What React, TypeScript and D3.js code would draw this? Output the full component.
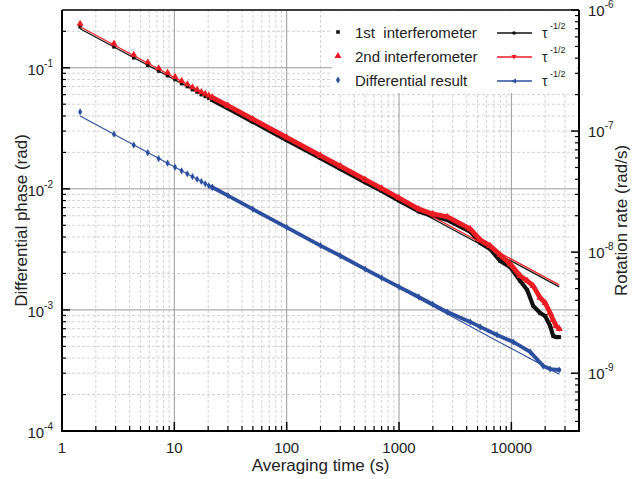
import React from 'react';
import * as d3 from 'd3';

const W = 634;
const H = 479;
const box = { left: 62, right: 579, top: 10, bottom: 431 };

// sparse early points (tau = n * 1.45 s), individual markers
const sparseTau = [1.45, 2.9, 4.35, 5.8, 7.25, 8.7, 10.15, 11.6, 13.05, 14.5, 15.95, 17.4, 18.85, 20.3, 21.75];
const sparse1st = [0.218, 0.149, 0.121, 0.105, 0.094, 0.086, 0.08, 0.074, 0.07, 0.066, 0.063, 0.06, 0.058, 0.056, 0.054];
const sparse2nd = [0.231, 0.158, 0.128, 0.111, 0.099, 0.091, 0.084, 0.078, 0.073, 0.069, 0.066, 0.063, 0.061, 0.059, 0.057];
const sparseDiff = [0.0432, 0.0283, 0.023, 0.0199, 0.0178, 0.0163, 0.0151, 0.0141, 0.0133, 0.0126, 0.012, 0.0115, 0.011, 0.0106, 0.0103];

const traceTau = [21.75, 30, 50, 100, 200, 300, 500, 700, 1000, 1500, 2000, 2700, 4300, 5280, 6470, 7940, 9750, 11970, 13830, 15640, 18040, 20000, 22150, 23550, 25050, 26670];
const trace1st = [0.054, 0.0462, 0.0358, 0.0253, 0.0179, 0.0146, 0.0113, 0.0096, 0.008, 0.0065, 0.00597, 0.00552, 0.00443, 0.00358, 0.00319, 0.00254, 0.00226, 0.00174, 0.00146, 0.00108, 0.000944, 0.000891, 0.000738, 0.00061, 0.000597, 0.000597];
const trace2nd = [0.057, 0.0487, 0.0377, 0.0266, 0.0188, 0.0154, 0.0119, 0.0101, 0.0084, 0.0068, 0.00621, 0.00587, 0.00467, 0.00379, 0.00338, 0.00285, 0.0024, 0.00191, 0.00174, 0.00158, 0.00126, 0.00114, 0.000944, 0.000826, 0.000738, 0.000697];

const traceTauDiff = [21.75, 30, 50, 100, 200, 300, 500, 700, 1000, 1500, 2000, 2700, 4300, 5280, 7470, 10380, 14700, 19200, 22150, 26670];
const traceDiff = [0.0103, 0.0088, 0.00679, 0.0048, 0.0034, 0.0028, 0.00217, 0.00184, 0.00155, 0.00128, 0.00111, 0.00096, 0.000796, 0.000724, 0.000621, 0.000544, 0.00045, 0.000344, 0.000325, 0.000319];

// tau^-1/2 reference lines (end points)
const fitTau = [1.45, 26670];
const fit1st = [0.21, 0.00155];
const fit2nd = [0.218, 0.00161];
const fitDiff = [0.0399, 0.000294];

const xTicks = [1, 10, 100, 1000, 10000];
const xTickLabels = ['1', '10', '100', '1000', '10000'];
const yLeftExps = [-4, -3, -2, -1];
const yRightExps = [-9, -8, -7, -6];

const legendLabels = ['1st  interferometer', '2nd interferometer', 'Differential result'];

const BLACK = '#111111';
const RED = '#ec1c24';
const BLUE = '#2d4fa0';
const FONT = '"Liberation Sans", Arial, sans-serif';

const x = d3.scaleLog().domain([1, 40000]).range([box.left, box.right]);
const y = d3.scaleLog().domain([1e-4, 0.3]).range([box.bottom, box.top]);
const yR = d3.scaleLog().domain([1e-6 * 1e-4 / 0.3, 1e-6]).range([box.bottom, box.top]);

const minorOf = (lo: number, hi: number, scaleMax: number) => {
  const out: number[] = [];
  for (let d = lo; d < hi; d *= 10) {
    for (let k = 2; k <= 9; k++) {
      const v = k * d;
      if (v < scaleMax * 0.999) out.push(v);
    }
  }
  return out;
};

const xMinor = minorOf(1, 1e5, 40000);
const yMinor = minorOf(1e-4, 1, 0.3);
const yRMinor = minorOf(1e-10, 1e-6, 1e-6).filter((v) => v > 3.4e-10);

const line = d3
  .line<[number, number]>()
  .x((d) => x(d[0]))
  .y((d) => y(d[1]));

const zip = (a: number[], b: number[]) => a.map((t, i) => [t, b[i]] as [number, number]);

const sq = d3.symbol(d3.symbolSquare, 13)() as string;
const tri = d3.symbol(d3.symbolTriangle, 22)() as string;
const dia = d3.symbol(d3.symbolDiamond, 15)() as string;
const triDown = 'M0,2.5L-2.6,-2L2.6,-2Z';
const triLeft = 'M-2.8,0L2,-2.4L2,2.4Z';

function Series({ tau, vals, ttau, tvals, color, marker, width }: any) {
  const pts = zip(tau, vals);
  const tr = zip(ttau, tvals);
  return (
    <g>
      <path d={line(tr) as string} fill="none" stroke={color} strokeWidth={width} strokeLinejoin="round" strokeLinecap="round" />
      {tr.map((p, i) => (
        <path key={'t' + i} d={marker} transform={`translate(${x(p[0])},${y(p[1])})`} fill={color} />
      ))}
      {pts.map((p, i) => (
        <path key={i} d={marker} transform={`translate(${x(p[0])},${y(p[1])})`} fill={color} />
      ))}
    </g>
  );
}

export default function App() {
  const legendRows = [
    { label: legendLabels[0], color: BLACK, m: sq, lm: 'circle' },
    { label: legendLabels[1], color: RED, m: tri, lm: triDown },
    { label: legendLabels[2], color: BLUE, m: dia, lm: triLeft },
  ];
  return (
    <svg
      width={W}
      height={H}
      style={{ position: 'absolute', left: 0, top: 0, background: '#fff' }}
      fontFamily={FONT}
    >
      <rect width={W} height={H} fill="#fff" />
      {/* grid */}
      <g>
        {xMinor.map((v) => (
          <line key={'xm' + v} x1={x(v)} x2={x(v)} y1={box.top} y2={box.bottom} stroke="#c8c8c8" strokeWidth={0.8} strokeDasharray="3,2" />
        ))}
        {yMinor.map((v) => (
          <line key={'ym' + v} x1={box.left} x2={box.right} y1={y(v)} y2={y(v)} stroke="#c8c8c8" strokeWidth={0.8} strokeDasharray="3,2" />
        ))}
        {xTicks.slice(1).map((v) => (
          <line key={'xM' + v} x1={x(v)} x2={x(v)} y1={box.top} y2={box.bottom} stroke="#999" strokeWidth={1} />
        ))}
        {yLeftExps.slice(1).map((e) => (
          <line key={'yM' + e} x1={box.left} x2={box.right} y1={y(10 ** e)} y2={y(10 ** e)} stroke="#999" strokeWidth={1} />
        ))}
      </g>

      {/* legend background */}
      <rect x={332} y={11} width={245} height={82} fill="#fff" />

      {/* data */}
      <Series tau={sparseTau} vals={sparse1st} ttau={traceTau} tvals={trace1st} color={BLACK} marker={sq} width={4.2} />
      <path d={line(zip(fitTau, fit1st)) as string} stroke={BLACK} strokeWidth={1.2} fill="none" />
      <Series tau={sparseTau} vals={sparse2nd} ttau={traceTau} tvals={trace2nd} color={RED} marker={tri} width={4.8} />
      <path d={line(zip(fitTau, fit2nd)) as string} stroke={RED} strokeWidth={1.2} fill="none" />
      <Series tau={sparseTau} vals={sparseDiff} ttau={traceTauDiff} tvals={traceDiff} color={BLUE} marker={dia} width={3.8} />
      <path d={line(zip(fitTau, fitDiff)) as string} stroke={BLUE} strokeWidth={1.1} fill="none" />

      {/* frame */}
      <line x1={box.left} x2={box.right} y1={box.top} y2={box.top} stroke="#000" strokeWidth={1.5} />
      <line x1={box.left} x2={box.right + 1} y1={box.bottom} y2={box.bottom} stroke="#000" strokeWidth={2} />
      <line x1={box.left} x2={box.left} y1={box.top} y2={box.bottom + 1} stroke="#000" strokeWidth={2} />
      <line x1={box.right} x2={box.right} y1={box.top} y2={box.bottom + 1} stroke="#000" strokeWidth={2} />

      {/* x ticks */}
      {xTicks.map((v) => (
        <line key={'xt' + v} x1={x(v)} x2={x(v)} y1={box.bottom} y2={box.bottom - 9} stroke="#000" strokeWidth={1.5} />
      ))}
      {xMinor.map((v) => (
        <line key={'xtm' + v} x1={x(v)} x2={x(v)} y1={box.bottom} y2={box.bottom - 5} stroke="#000" strokeWidth={1.2} />
      ))}
      {xTicks.map((v, i) => (
        <text key={'xl' + v} x={x(v)} y={453} fontSize={15} textAnchor="middle" fill="#222">
          {xTickLabels[i]}
        </text>
      ))}

      {/* left y ticks */}
      {yLeftExps.map((e) => (
        <line key={'yt' + e} x1={box.left} x2={box.left + 8} y1={y(10 ** e)} y2={y(10 ** e)} stroke="#000" strokeWidth={1.5} />
      ))}
      {yMinor.map((v) => (
        <line key={'ytm' + v} x1={box.left} x2={box.left + 4} y1={y(v)} y2={y(v)} stroke="#000" strokeWidth={1.2} />
      ))}
      {yLeftExps.map((e) => (
        <text key={'yl' + e} x={53} y={y(10 ** e) + 7} fontSize={15} textAnchor="end" fill="#222">
          10
          <tspan dy={-8} fontSize={10}>
            {e}
          </tspan>
        </text>
      ))}

      {/* right y ticks */}
      {yRightExps.map((e) => (
        <line key={'rt' + e} x1={box.right} x2={box.right - 8} y1={yR(10 ** e)} y2={yR(10 ** e)} stroke="#000" strokeWidth={1.5} />
      ))}
      {yRMinor.map((v) => (
        <line key={'rtm' + v} x1={box.right} x2={box.right - 4} y1={yR(v)} y2={yR(v)} stroke="#000" strokeWidth={1.2} />
      ))}
      {yRightExps.map((e) => (
        <text key={'rl' + e} x={588} y={yR(10 ** e) + 6} fontSize={15} textAnchor="start" fill="#222">
          10
          <tspan dy={-8} fontSize={10}>
            {e}
          </tspan>
        </text>
      ))}

      {/* axis titles */}
      <text x={(box.left + box.right) / 2} y={471} fontSize={17} textAnchor="middle" fill="#222">
        Averaging time (s)
      </text>
      <text transform={`translate(27,${(box.top + box.bottom) / 2}) rotate(-90)`} fontSize={17} textAnchor="middle" fill="#222">
        Differential phase (rad)
      </text>
      <text transform={`translate(627,${(box.top + box.bottom) / 2}) rotate(-90)`} fontSize={17} textAnchor="middle" fill="#222">
        Rotation rate (rad/s)
      </text>

      {/* legend */}
      {legendRows.map((r, i) => {
        const cy = 33 + i * 24;
        return (
          <g key={'lg' + i}>
            <path d={r.m} transform={`translate(338,${cy - 1})`} fill={r.color} />
            <text x={355} y={cy + 5} fontSize={15} fill="#222" style={{ whiteSpace: 'pre' }}>
              {r.label}
            </text>
            <line x1={497} x2={532} y1={cy} y2={cy} stroke={r.color} strokeWidth={1.3} />
            {r.lm === 'circle' ? (
              <circle cx={514} cy={cy} r={1.8} fill={r.color} />
            ) : (
              <path d={r.lm} transform={`translate(514,${cy})`} fill={r.color} />
            )}
            <text x={542} y={cy + 5} fontSize={14} fill="#222">
              τ
            </text>
            <text x={550} y={cy - 4} fontSize={9} fill="#222">
              -1/2
            </text>
          </g>
        );
      })}
    </svg>
  );
}
